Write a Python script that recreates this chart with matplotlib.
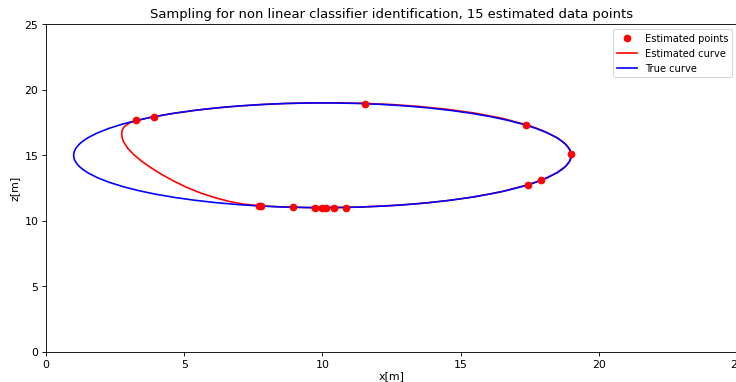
import matplotlib
matplotlib.use("Agg")
import matplotlib.pyplot as plt
from matplotlib.lines import Line2D
from matplotlib.patches import Ellipse

# estimated data points (x, z)
POINTS_X = [3.27, 3.92, 11.53, 17.38, 19.0, 17.92, 17.45,
            7.69, 7.78, 8.92, 9.73, 9.99, 10.13, 10.41, 10.86]
POINTS_Z = [17.66, 17.96, 18.94, 17.30, 15.08, 13.10, 12.72,
            11.13, 11.13, 11.03, 11.0, 11.0, 11.0, 11.01, 11.01]

# estimated curve
EST_X = [3.29, 3.05, 2.92, 2.82, 2.76, 2.74, 2.74, 2.76, 2.80, 2.95, 3.18,
         3.47, 3.82, 4.20, 4.62, 5.08, 5.58, 6.10, 6.62, 7.15, 7.68,
         8.5, 9.5, 10.5, 11.5, 12.5, 13.5, 14.5, 15.5, 16.5,
         17.5, 18.0, 18.5, 18.8, 18.95, 19.0, 18.95, 18.8, 18.5, 18.0,
         17.5, 16.5, 15.5, 14.5, 13.5, 12.5, 11.5, 10.5, 9.5, 8.5, 7.5,
         6.5, 5.5, 4.5, 3.7, 3.29]
EST_Z = [17.64, 17.50, 17.34, 17.15, 16.95, 16.75, 16.57, 16.30, 16.06,
         15.55, 15.04, 14.53, 14.02, 13.52, 13.03, 12.56, 12.13, 11.77,
         11.48, 11.27, 11.15,
         11.06, 11.01, 11.01, 11.06, 11.16, 11.31, 11.53, 11.83, 12.23,
         12.79, 13.17, 13.69, 14.16, 14.58, 15.0, 15.42, 15.84, 16.33,
         16.86, 17.26, 17.83, 18.23, 18.52, 18.73, 18.88, 18.97, 19.01,
         19.0, 18.95, 18.84, 18.685, 18.464, 18.166, 17.87, 17.64]

# true curve: ellipse centre, full width and height
TRUE_CENTER = (10.0, 15.0)
TRUE_WIDTH = 18.0
TRUE_HEIGHT = 8.0

fig = plt.figure(figsize=(9.32, 4.84), dpi=79)
ax = fig.add_axes([0.0625, 0.0793, 0.9385, 0.856])

ax.plot(POINTS_X, POINTS_Z, "o", color="red", zorder=4)
ax.plot(EST_X, EST_Z, color="red", zorder=2)
ax.add_patch(Ellipse(TRUE_CENTER, TRUE_WIDTH, TRUE_HEIGHT, fill=False,
                     edgecolor="blue", linewidth=1.5, zorder=3))

ax.set_xlim(0, 25)
ax.set_ylim(0, 25)
ax.set_title("Sampling for non linear classifier identification, 15 estimated data points")
ax.set_xlabel("x[m]", labelpad=1)
ax.set_ylabel("z[m]")

handles = [
    Line2D([], [], marker="o", linestyle="none", color="red"),
    Line2D([], [], color="red"),
    Line2D([], [], color="blue"),
]
ax.legend(handles, ["Estimated points", "Estimated curve", "True curve"],
          loc="upper right", fontsize=9)

fig.savefig("out.png", dpi=79)
